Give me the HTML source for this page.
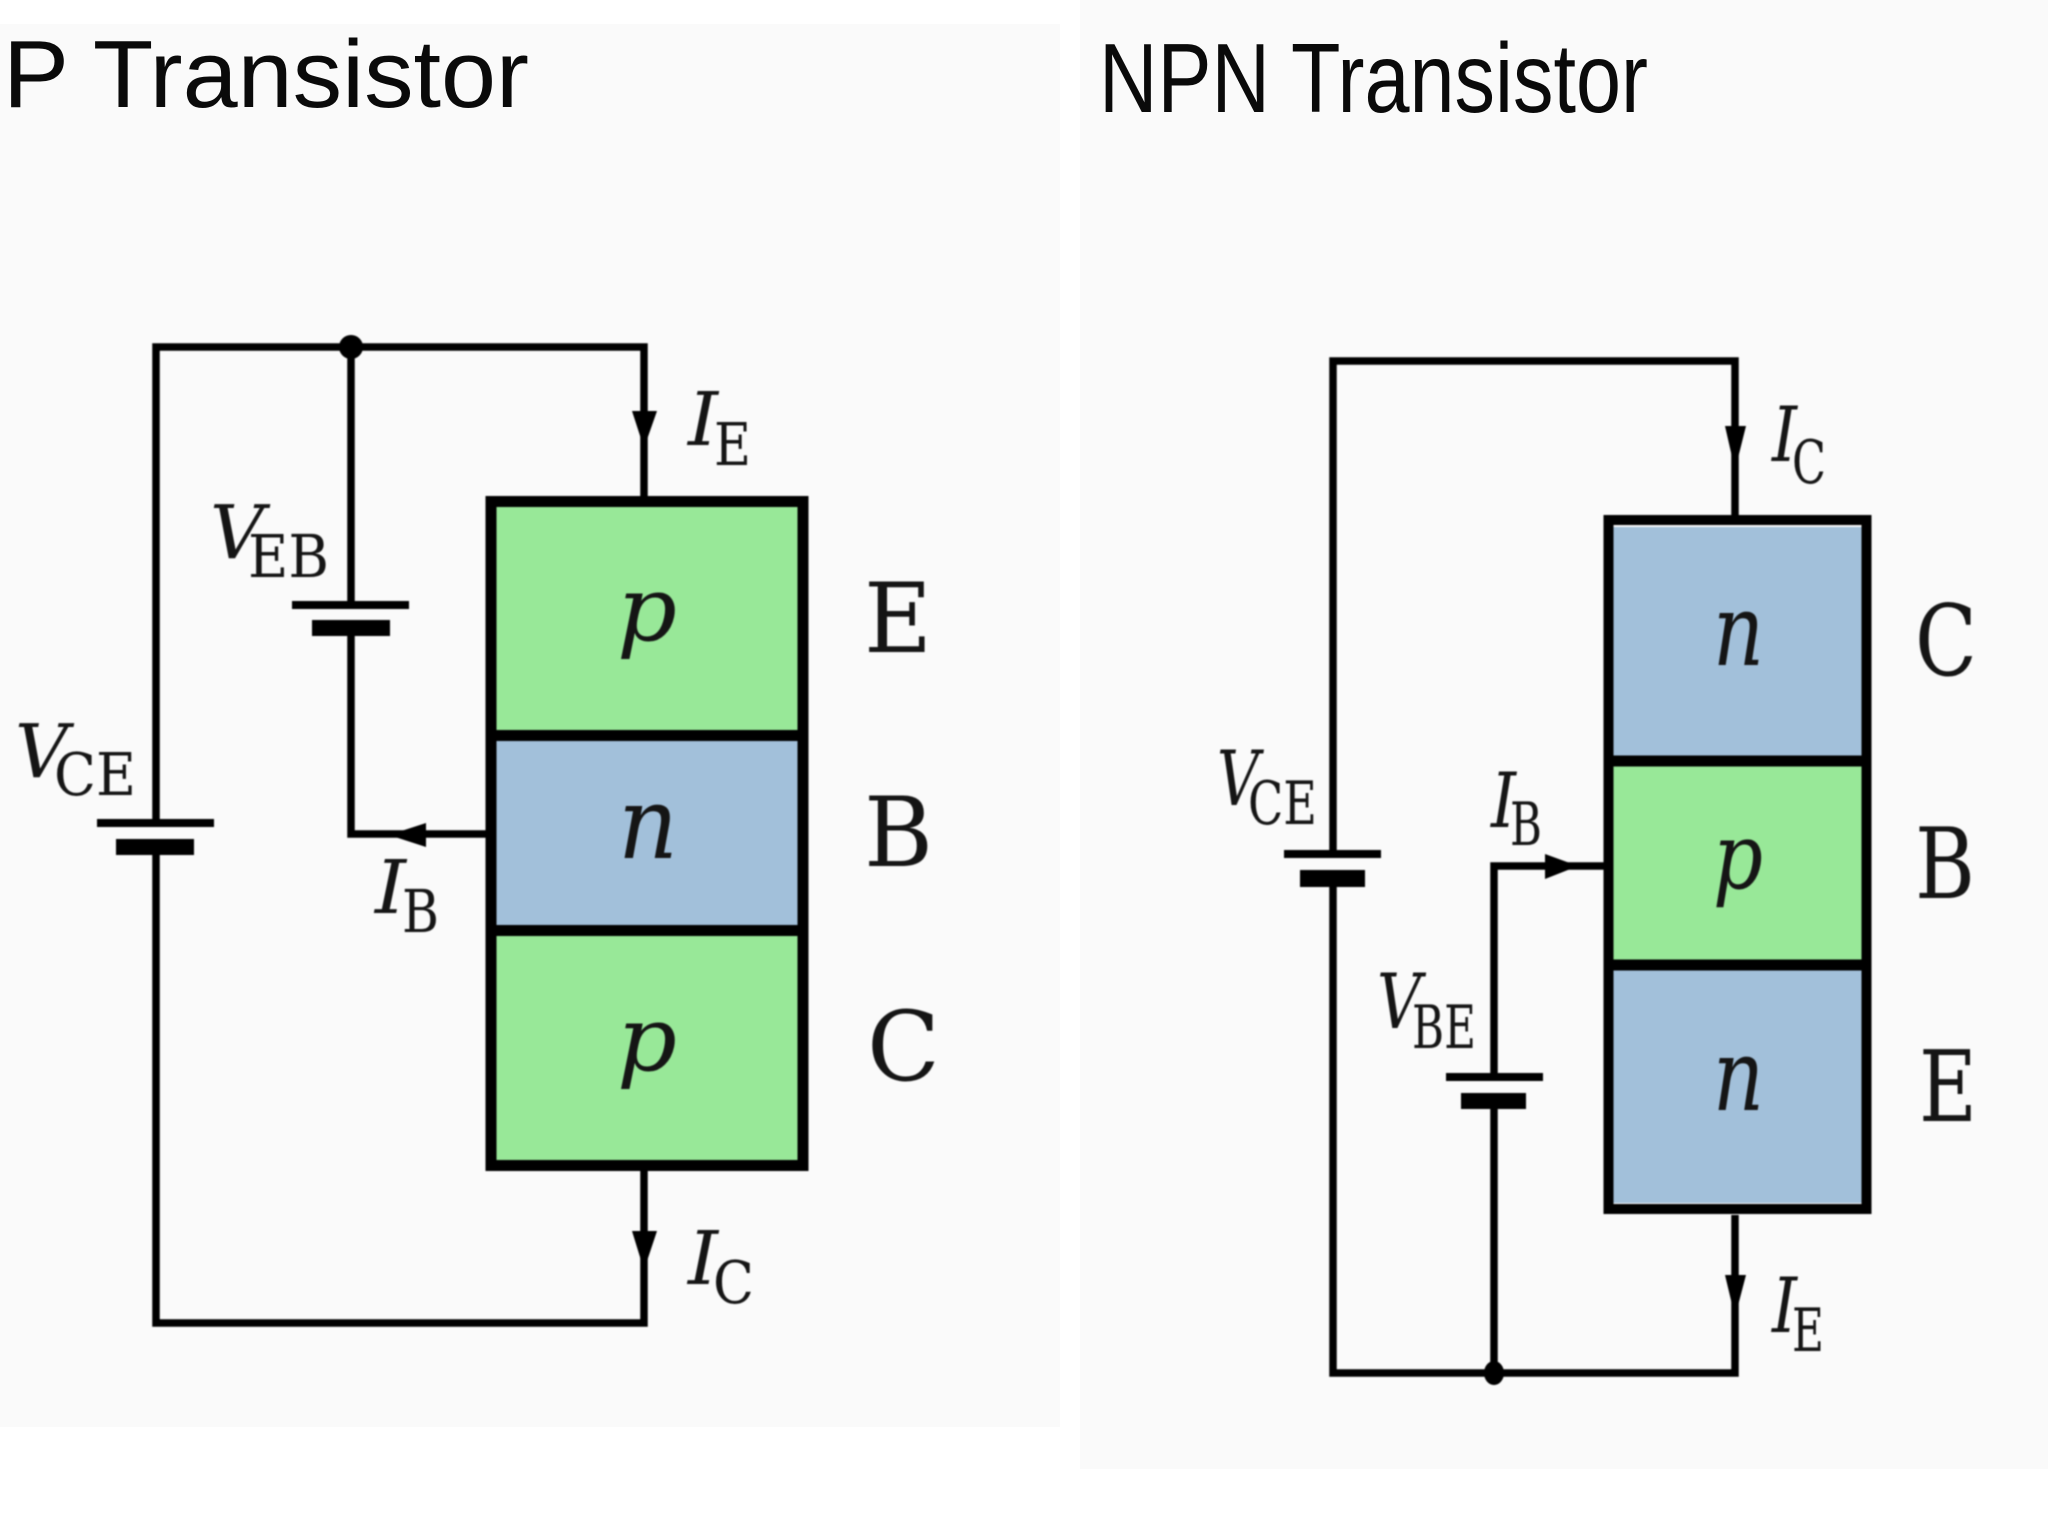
<!DOCTYPE html>
<html><head><meta charset="utf-8"><style>
html,body{margin:0;padding:0;background:#fff;width:2048px;height:1536px;overflow:hidden}
svg{display:block}
.t{font-family:"Liberation Sans",sans-serif;fill:#0a0a0a}
.s{font-family:"DejaVu Serif","Liberation Serif",serif;fill:#151515}
.i{font-style:italic}
.w{fill:none;stroke:#000;stroke-width:7.5;stroke-linejoin:miter}
</style></head><body>
<svg width="2048" height="1536" viewBox="0 0 2048 1536" xmlns="http://www.w3.org/2000/svg">
<rect width="2048" height="1536" fill="#fff"/>
<rect x="0" y="24" width="1060" height="1403" fill="#fafafa"/>
<rect x="1080" y="0" width="968" height="1469" fill="#fafafa"/>
<text class="t" x="3" y="107" font-size="96" textLength="526" lengthAdjust="spacingAndGlyphs">P Transistor</text>
<text class="t" x="1099" y="112" font-size="98" textLength="549" lengthAdjust="spacingAndGlyphs">NPN Transistor</text>

<g style="filter:blur(.8px)">
<!-- PNP -->
<rect x="496" y="507" width="302" height="228" fill="#98e898"/>
<rect x="496" y="735" width="302" height="195" fill="#a2c0da"/>
<rect x="496" y="930" width="302" height="235" fill="#98e898"/>
<rect x="491" y="501.500" width="312" height="664" fill="none" stroke="#000" stroke-width="11"/>
<path d="M486 735.500H808M486 930.500H808" stroke="#000" stroke-width="11"/>
<path class="w" d="M156 823V347H644V496M644 1171V1323H156V855"/>
<path class="w" d="M351 347V605M351 636V834H486"/>
<circle cx="351" cy="347" r="12"/>
<path d="M292 601h117v8H292zM312 620h78v16H312zM97 819h117v8H97zM116 839h78v16H116z"/>
<path d="M632 411H657L644 448zM632 1231H657L644 1270zM426 823V847L389 835z"/>

<text class="s i" x="688" y="445" font-size="74" textLength="30" lengthAdjust="spacingAndGlyphs">I</text>
<text class="s" x="714" y="465" font-size="59" textLength="37" lengthAdjust="spacingAndGlyphs">E</text>
<text class="s i" x="210" y="558" font-size="74" textLength="54" lengthAdjust="spacingAndGlyphs">V</text>
<text class="s" x="248" y="577" font-size="59" textLength="81" lengthAdjust="spacingAndGlyphs">EB</text>
<text class="s i" x="15" y="777" font-size="74" textLength="53" lengthAdjust="spacingAndGlyphs">V</text>
<text class="s" x="54" y="795" font-size="59" textLength="82" lengthAdjust="spacingAndGlyphs">CE</text>
<text class="s i" x="375" y="913" font-size="74" textLength="31" lengthAdjust="spacingAndGlyphs">I</text>
<text class="s" x="402" y="932" font-size="59" textLength="37" lengthAdjust="spacingAndGlyphs">B</text>
<text class="s i" x="688" y="1284" font-size="74" textLength="30" lengthAdjust="spacingAndGlyphs">I</text>
<text class="s" x="713" y="1303" font-size="59" textLength="41" lengthAdjust="spacingAndGlyphs">C</text>
<text class="s i" x="617" y="640" font-size="90" textLength="60" lengthAdjust="spacingAndGlyphs">p</text>
<text class="s i" x="618" y="858" font-size="100" textLength="60" lengthAdjust="spacingAndGlyphs">n</text>
<text class="s i" x="617" y="1070" font-size="90" textLength="60" lengthAdjust="spacingAndGlyphs">p</text>
<text class="s" x="864" y="652" font-size="96" textLength="68" lengthAdjust="spacingAndGlyphs">E</text>
<text class="s" x="864" y="866" font-size="96" textLength="69" lengthAdjust="spacingAndGlyphs">B</text>
<text class="s" x="867" y="1080" font-size="96" textLength="73" lengthAdjust="spacingAndGlyphs">C</text>

<!-- NPN -->
<rect x="1613" y="527" width="249" height="235" fill="#a2c0da"/>
<rect x="1613" y="762" width="249" height="203" fill="#98e898"/>
<rect x="1613" y="965" width="249" height="238" fill="#a2c0da"/>
<rect x="1608.500" y="520" width="258" height="689" fill="none" stroke="#000" stroke-width="10"/>
<path d="M1604 761H1871M1604 965H1871" stroke="#000" stroke-width="11"/>
<path class="w" d="M1333 854V361H1735V515M1735 1215V1373H1333V887"/>
<path class="w" d="M1494 1077V866H1604M1494 1109V1373"/>
<ellipse cx="1494" cy="1373" rx="10" ry="12"/>
<path d="M1284 850h97v8H1284zM1300 870h65v17H1300zM1446 1073h97v8H1446zM1461 1093h65v16H1461z"/>
<path d="M1725 426H1746L1735 470zM1725 1275H1746L1735 1317zM1545 854V879L1578 866z"/>

<text class="s i" x="1772" y="461" font-size="76" textLength="25" lengthAdjust="spacingAndGlyphs">I</text>
<text class="s" x="1792" y="483" font-size="60" textLength="34" lengthAdjust="spacingAndGlyphs">C</text>
<text class="s i" x="1217" y="805" font-size="76" textLength="42" lengthAdjust="spacingAndGlyphs">V</text>
<text class="s" x="1248" y="824" font-size="60" textLength="69" lengthAdjust="spacingAndGlyphs">CE</text>
<text class="s i" x="1491" y="827" font-size="76" textLength="25" lengthAdjust="spacingAndGlyphs">I</text>
<text class="s" x="1510" y="845" font-size="60" textLength="32" lengthAdjust="spacingAndGlyphs">B</text>
<text class="s i" x="1377" y="1028" font-size="76" textLength="44" lengthAdjust="spacingAndGlyphs">V</text>
<text class="s" x="1412" y="1048" font-size="60" textLength="64" lengthAdjust="spacingAndGlyphs">BE</text>
<text class="s i" x="1772" y="1332" font-size="76" textLength="25" lengthAdjust="spacingAndGlyphs">I</text>
<text class="s" x="1792" y="1351" font-size="60" textLength="32" lengthAdjust="spacingAndGlyphs">E</text>
<text class="s i" x="1713" y="665" font-size="100" textLength="51" lengthAdjust="spacingAndGlyphs">n</text>
<text class="s i" x="1713" y="888" font-size="92" textLength="50" lengthAdjust="spacingAndGlyphs">p</text>
<text class="s i" x="1713" y="1110" font-size="100" textLength="51" lengthAdjust="spacingAndGlyphs">n</text>
<text class="s" x="1915" y="675" font-size="98" textLength="62" lengthAdjust="spacingAndGlyphs">C</text>
<text class="s" x="1915" y="898" font-size="98" textLength="60" lengthAdjust="spacingAndGlyphs">B</text>
<text class="s" x="1919" y="1121" font-size="98" textLength="58" lengthAdjust="spacingAndGlyphs">E</text>
</g>
</svg>
</body></html>
